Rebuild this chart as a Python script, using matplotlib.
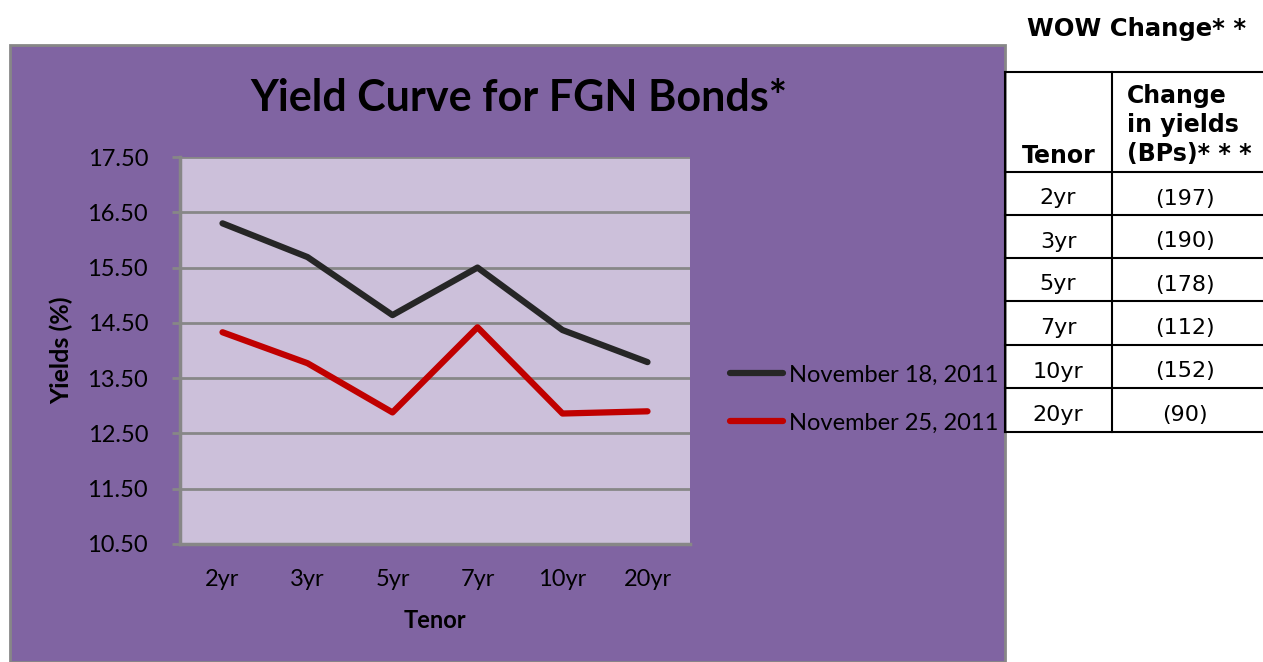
import matplotlib
matplotlib.use("Agg")
import matplotlib.pyplot as plt
from matplotlib.patches import Rectangle

tenors = ["2yr", "3yr", "5yr", "7yr", "10yr", "20yr"]
nov18 = [16.30, 15.69, 14.64, 15.50, 14.37, 13.79]
nov25 = [14.33, 13.77, 12.88, 14.42, 12.86, 12.90]
series_labels = ["November 18, 2011", "November 25, 2011"]
change_bps = ["(197)", "(190)", "(178)", "(112)", "(152)", "(90)"]
yticks = [10.5, 11.5, 12.5, 13.5, 14.5, 15.5, 16.5, 17.5]

W, H = 1263, 662
fig = plt.figure(figsize=(W / 100, H / 100), dpi=100)
fig.patch.set_facecolor("white")

def fx(px):
    return px / W

def fy(py):
    return 1 - py / H

# purple chart area
bg = Rectangle((fx(10), fy(662)), fx(995), 617 / H, transform=fig.transFigure,
               facecolor="#8064A2", edgecolor="#878787", linewidth=2, zorder=-10)
fig.patches.append(bg)

font = "Lato"
ax = fig.add_axes([fx(180), fy(544), fx(510), 387 / H])
ax.set_facecolor("#CCC0DA")
x = list(range(len(tenors)))
ax.plot(x, nov18, color="#262626", lw=4.5, solid_capstyle="round", label=series_labels[0])
ax.plot(x, nov25, color="#C00000", lw=4.5, solid_capstyle="round", label=series_labels[1])
ax.set_xlim(-0.5, len(tenors) - 0.5)
ax.set_ylim(10.5, 17.5)
ax.set_yticks(yticks)
ax.set_yticklabels([f"{v:.2f}" for v in yticks], fontsize=17, family=font)
ax.set_xticks(x)
ax.set_xticklabels(tenors, fontsize=17, family=font)
ax.grid(axis="y", color="#878787", lw=2)
ax.set_axisbelow(True)
for s in ["top", "right"]:
    ax.spines[s].set_visible(False)
for s in ["left", "bottom"]:
    ax.spines[s].set_color("#878787")
    ax.spines[s].set_linewidth(2.5)
ax.tick_params(axis="y", length=6, width=2, color="#878787", pad=17)
ax.tick_params(axis="x", length=0, pad=18)
ax.set_ylabel("Yields (%)", fontsize=18, fontweight="bold", family=font, labelpad=10)
ax.set_xlabel("Tenor", fontsize=17, fontweight="bold", family=font, labelpad=14)

fig.text(fx(519), fy(98), "Yield Curve for FGN Bonds*", fontsize=31, fontweight="bold",
         family=font, ha="center", va="center")

ax.legend(loc="center left", bbox_to_anchor=(fx(713), fy(399)), bbox_transform=fig.transFigure,
          frameon=False, prop={"family": font, "size": 17}, handlelength=2.25,
          handletextpad=0.25, labelspacing=1.15, borderpad=0.2)

# table
tf = "DejaVu Sans"
col_x = [1005, 1112, 1263]
row_y = [72, 172, 215, 258, 301, 345, 388, 432]
tax = fig.add_axes([0, 0, 1, 1], facecolor="none", zorder=5)
tax.set_xlim(0, W)
tax.set_ylim(H, 0)
tax.axis("off")
tax.text(1137, 29, "WOW Change* *", fontsize=17.5, fontweight="bold", family=tf,
         ha="center", va="center")
for y in row_y:
    tax.plot([col_x[0], col_x[-1]], [y, y], color="black", lw=1.5)
for cx in col_x[:2]:
    tax.plot([cx, cx], [row_y[0], row_y[-1]], color="black", lw=1.5)
tax.text(1059, 156, "Tenor", fontsize=17, fontweight="bold", family=tf, ha="center", va="center")
tax.text(1127, 125, "Change\nin yields\n(BPs)* * *", fontsize=17, fontweight="bold", family=tf,
         ha="left", va="center", linespacing=1.25)
for i, (t, c) in enumerate(zip(tenors, change_bps)):
    yc = (row_y[i + 1] + row_y[i + 2]) / 2 + 5
    tax.text(1058, yc, t, fontsize=16, family=tf, ha="center", va="center")
    tax.text(1185, yc, c, fontsize=16, family=tf, ha="center", va="center")

fig.savefig("out.png", dpi=100)
